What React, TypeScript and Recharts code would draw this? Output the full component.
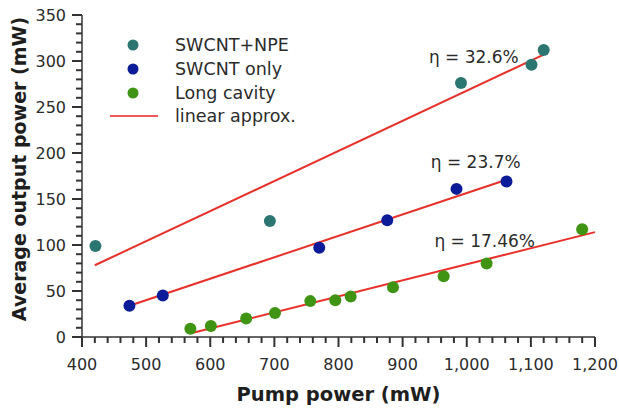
import React from 'react';
import {
  ComposedChart,
  Scatter,
  Line,
  XAxis,
  YAxis,
  Legend,
  ReferenceDot,
} from 'recharts';

// measured points, pump power (mW) vs average output power (mW)
const npePump = [421, 693, 991, 1101, 1120];
const npeOut = [99, 126, 276, 296, 312];

const swcntPump = [474, 526, 770, 876, 984, 1062];
const swcntOut = [34, 45, 97, 127, 161, 169];

const longPump = [569, 601, 656, 701, 756, 795, 819, 885, 964, 1031, 1180];
const longOut = [9, 12, 20, 26, 39, 40, 44, 54, 66, 80, 117];

// linear fits, start/end points
const fitNpePump = [420, 1120];
const fitNpeOut = [78, 307];
const fitSwcntPump = [474, 1062];
const fitSwcntOut = [34, 171];
const fitLongPump = [570, 1200];
const fitLongOut = [4, 114];

const etaLabels = ['η = 32.6%', 'η = 23.7%', 'η = 17.46%'];
const etaPump = [1011, 1014, 1028];
const etaOut = [304, 190, 104];

// major ticks get labels, the rest are minor marks
const xTicks = [400, 500, 600, 700, 800, 900, 1000, 1100, 1200];
const xAllTicks = [
  400, 420, 440, 460, 480, 500, 520, 540, 560, 580, 600, 620, 640, 660, 680,
  700, 720, 740, 760, 780, 800, 820, 840, 860, 880, 900, 920, 940, 960, 980,
  1000, 1020, 1040, 1060, 1080, 1100, 1120, 1140, 1160, 1180, 1200,
];
const yTicks = [0, 50, 100, 150, 200, 250, 300, 350];
const yAllTicks = [
  0, 10, 20, 30, 40, 50, 60, 70, 80, 90, 100, 110, 120, 130, 140, 150, 160,
  170, 180, 190, 200, 210, 220, 230, 240, 250, 260, 270, 280, 290, 300, 310,
  320, 330, 340, 350,
];

const seriesNames = ['SWCNT+NPE', 'SWCNT only', 'Long cavity'];
const seriesColors = ['#2b7670', '#0c1c98', '#3f9414'];
const fitName = 'linear approx.';
const fitColor = '#e8302a';

const FONT = '"DejaVu Sans", Verdana, sans-serif';
const TEXT = '#2b2b2b';
const AXIS = '#333';

const X_MIN = 400;
const Y_MIN = 0;

const zip = (xs: number[], ys: number[]) => xs.map((x, i) => ({ x, y: ys[i] }));

const npeData = zip(npePump, npeOut);
const swcntData = zip(swcntPump, swcntOut);
const longData = zip(longPump, longOut);
const fits = [zip(fitNpePump, fitNpeOut), zip(fitSwcntPump, fitSwcntOut), zip(fitLongPump, fitLongOut)];

// tick marks placed on the axes through the chart's own scales
const xTickMarks = xAllTicks.map((v) => ({ x: v, y: Y_MIN, major: xTicks.includes(v) }));
const yTickMarks = yAllTicks.map((v) => ({ x: X_MIN, y: v, major: yTicks.includes(v) }));

const XTickMark = (p: any) => (
  <line x1={p.cx} x2={p.cx} y1={p.cy} y2={p.cy + (p.payload.major ? 10 : 6)} stroke={AXIS} strokeWidth={2} />
);
const YTickMark = (p: any) => (
  <line x1={p.cx} x2={p.cx - (p.payload.major ? 10 : 6)} y1={p.cy} y2={p.cy} stroke={AXIS} strokeWidth={2} />
);

const XTick = (props: any) => {
  const { x, y, payload } = props;
  if (!xTicks.includes(payload.value)) return <g />;
  return (
    <text x={x} y={y + 33} textAnchor="middle" fontSize={16} fill={TEXT} fontFamily={FONT}>
      {payload.value.toLocaleString('en-US')}
    </text>
  );
};

const YTick = (props: any) => {
  const { x, y, payload } = props;
  if (!yTicks.includes(payload.value)) return <g />;
  return (
    <text x={x - 16} y={y} dy="0.36em" textAnchor="end" fontSize={16} fill={TEXT} fontFamily={FONT}>
      {payload.value}
    </text>
  );
};

const renderLegend = () => (
  <svg width={240} height={100}>
    {seriesNames.map((name, i) => (
      <g key={name}>
        <circle cx={33} cy={15 + i * 24} r={5.5} fill={seriesColors[i]} />
        <text x={75} y={15 + i * 24} dy="0.36em" fontSize={17.5} fill={TEXT} fontFamily={FONT}>
          {name}
        </text>
      </g>
    ))}
    <line x1={10} x2={58} y1={86} y2={86} stroke="#f0595a" strokeWidth={2} />
    <text x={75} y={86} dy="0.36em" fontSize={17.5} fill={TEXT} fontFamily={FONT}>
      {fitName}
    </text>
  </svg>
);

export default function App() {
  return (
    <div style={{ position: 'fixed', left: 0, top: 0, width: 619, height: 409, background: '#fff' }}>
      <ComposedChart width={619} height={409} margin={{ top: 15, right: 24, bottom: 0, left: 0 }}>
        <XAxis
          type="number"
          dataKey="x"
          domain={[400, 1200]}
          ticks={xAllTicks}
          interval={0}
          height={72}
          tickSize={0}
          tickMargin={0}
          tickLine={false}
          tick={XTick}
          axisLine={{ stroke: AXIS, strokeWidth: 1.5 }}
          label={{
            value: 'Pump power (mW)',
            position: 'insideBottom',
            offset: 8,
            style: { fontSize: 19.5, fontWeight: 'bold', fill: '#1e1e1e', fontFamily: FONT },
          }}
        />
        <XAxis
          xAxisId="top"
          orientation="top"
          type="number"
          domain={[400, 1200]}
          height={0}
          tick={false}
          tickLine={false}
          axisLine={{ stroke: '#777', strokeWidth: 1.5 }}
        />
        <YAxis
          type="number"
          domain={[0, 350]}
          ticks={yAllTicks}
          interval={0}
          width={82}
          tickSize={0}
          tickMargin={0}
          tickLine={false}
          tick={YTick}
          axisLine={{ stroke: AXIS, strokeWidth: 1.5 }}
          label={{
            content: () => (
              <text
                x={19}
                y={169}
                transform="rotate(-90 19 169)"
                textAnchor="middle"
                dominantBaseline="central"
                fontSize={19}
                fontWeight="bold"
                fill="#1e1e1e"
                fontFamily={FONT}
              >
                Average output power (mW)
              </text>
            ),
          }}
        />
        <YAxis
          yAxisId="right"
          orientation="right"
          type="number"
          domain={[0, 350]}
          width={0}
          tick={false}
          tickLine={false}
          axisLine={{ stroke: '#777', strokeWidth: 1.5 }}
        />
        <Legend
          layout="vertical"
          align="center"
          verticalAlign="middle"
          content={renderLegend}
          wrapperStyle={{ position: 'absolute', left: 100, top: 30, width: 240, height: 100 }}
        />
        <Scatter data={xTickMarks} dataKey="y" shape={XTickMark} legendType="none" isAnimationActive={false} />
        <Scatter data={yTickMarks} dataKey="y" shape={YTickMark} legendType="none" isAnimationActive={false} />
        {fits.map((d, i) => (
          <Line
            key={`fit-${i}`}
            data={d}
            dataKey="y"
            stroke={fitColor}
            strokeWidth={2}
            dot={false}
            activeDot={false}
            legendType="none"
            isAnimationActive={false}
          />
        ))}
        <Scatter data={npeData} dataKey="y" fill={seriesColors[0]} shape={(p: any) => <circle cx={p.cx} cy={p.cy} r={6} fill={seriesColors[0]} />} isAnimationActive={false} />
        <Scatter data={swcntData} dataKey="y" fill={seriesColors[1]} shape={(p: any) => <circle cx={p.cx} cy={p.cy} r={6} fill={seriesColors[1]} />} isAnimationActive={false} />
        <Scatter data={longData} dataKey="y" fill={seriesColors[2]} shape={(p: any) => <circle cx={p.cx} cy={p.cy} r={6} fill={seriesColors[2]} />} isAnimationActive={false} />
        {etaLabels.map((t, i) => (
          <ReferenceDot
            key={t}
            x={etaPump[i]}
            y={etaOut[i]}
            r={0}
            fill="none"
            stroke="none"
            label={{ value: t, position: 'center', style: { fontSize: 17, fill: TEXT, fontFamily: FONT } }}
          />
        ))}
      </ComposedChart>
    </div>
  );
}
